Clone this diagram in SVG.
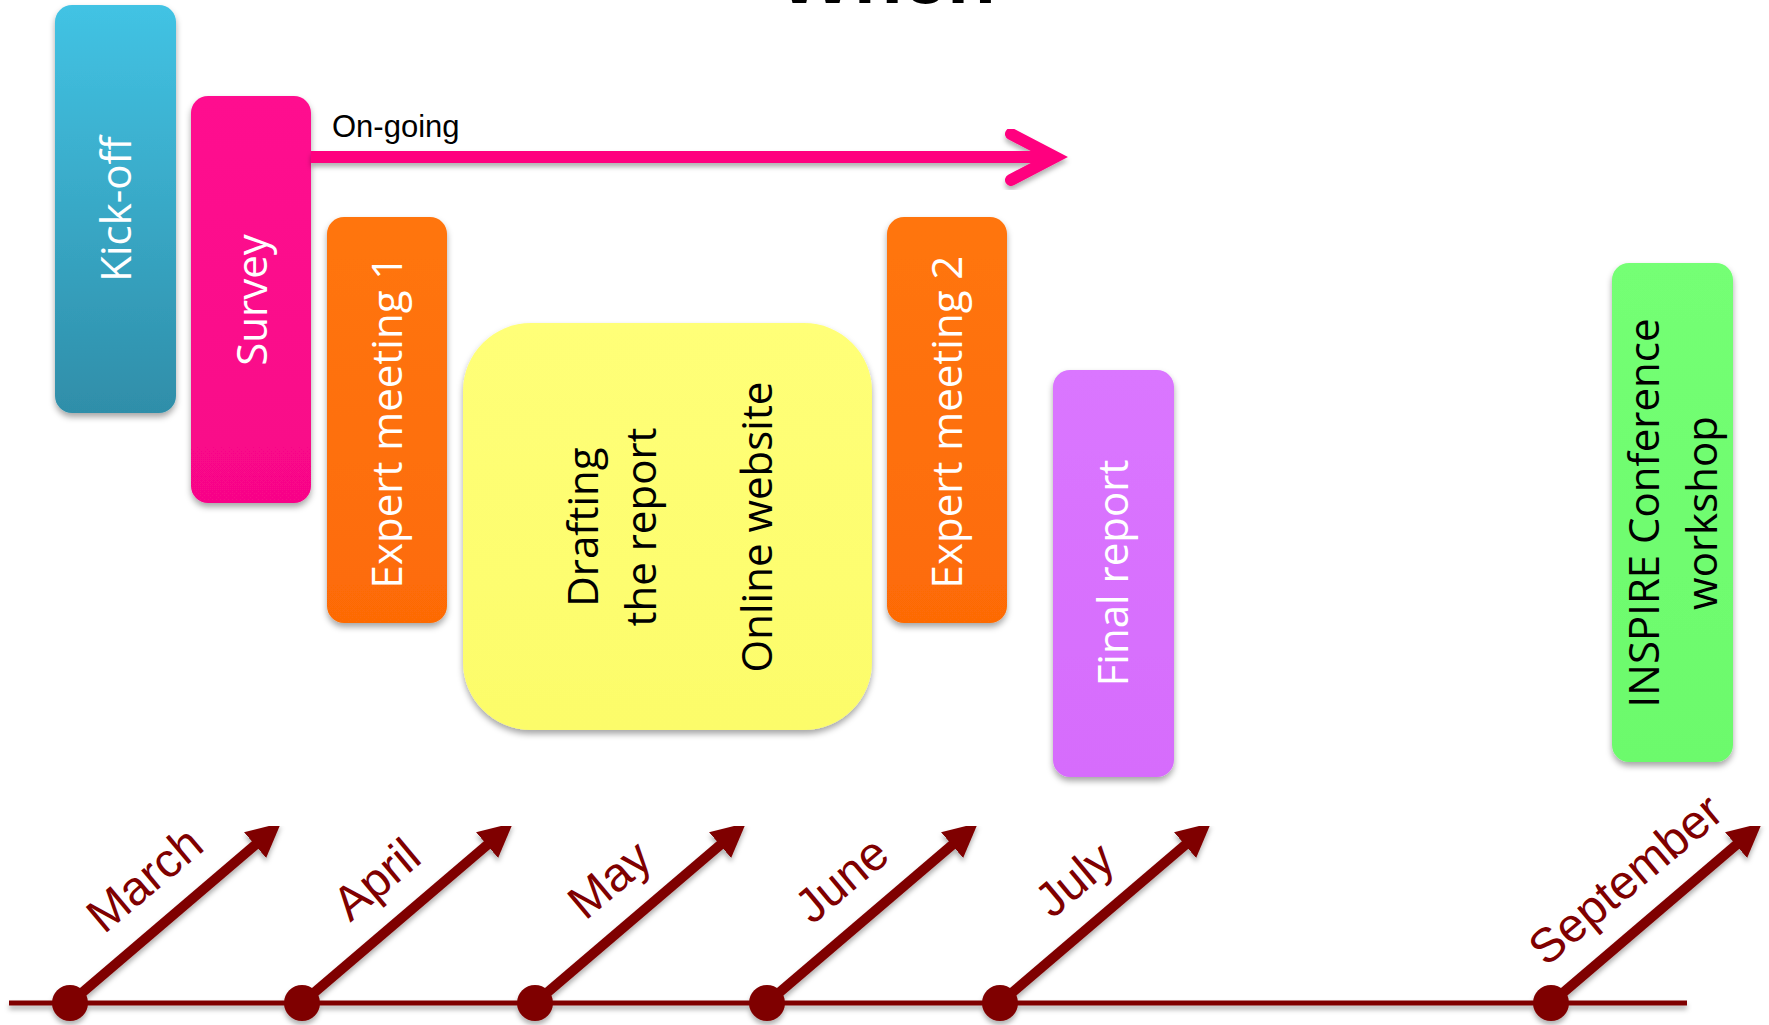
<svg xmlns="http://www.w3.org/2000/svg" width="1769" height="1025" viewBox="0 0 1769 1025">
  <defs>
    <style>
      .lbl { font-family: "Open Sans", "Noto Sans", "DejaVu Sans", sans-serif; font-size: 42px; text-anchor: middle; }
      .w { fill: #ffffff; }
      .k { fill: #000000; }
      .month { font-family: "Liberation Sans", Arial, sans-serif; font-size: 48px; fill: #7f0000; text-anchor: middle; }
      .box { filter: url(#shadow); }
      .tl { stroke: #7f0000; fill: none; }
    </style>
    <filter id="shadow" x="-20%" y="-20%" width="140%" height="140%">
      <feDropShadow dx="0" dy="4" stdDeviation="3" flood-color="#000000" flood-opacity="0.35"/>
    </filter>
    <filter id="lshadow" x="-10%" y="-10%" width="120%" height="130%">
      <feDropShadow dx="0" dy="4" stdDeviation="2.5" flood-color="#000000" flood-opacity="0.3"/>
    </filter>
    <linearGradient id="gBlue" x1="0" y1="0" x2="0" y2="1">
      <stop offset="0" stop-color="#42c3e4"/>
      <stop offset="1" stop-color="#2f8ea9"/>
    </linearGradient>
    <linearGradient id="gPink" x1="0" y1="0" x2="0" y2="1">
      <stop offset="0" stop-color="#ff0d8f"/>
      <stop offset="1" stop-color="#f80688"/>
    </linearGradient>
    <linearGradient id="gOrange" x1="0" y1="0" x2="0" y2="1">
      <stop offset="0" stop-color="#ff7510"/>
      <stop offset="1" stop-color="#fd6b06"/>
    </linearGradient>
    <linearGradient id="gYellow" x1="0" y1="0" x2="0" y2="1">
      <stop offset="0" stop-color="#ffff78"/>
      <stop offset="1" stop-color="#fcfc6a"/>
    </linearGradient>
    <linearGradient id="gViolet" x1="0" y1="0" x2="0" y2="1">
      <stop offset="0" stop-color="#da76ff"/>
      <stop offset="1" stop-color="#d66cfc"/>
    </linearGradient>
    <linearGradient id="gGreen" x1="0" y1="0" x2="0" y2="1">
      <stop offset="0" stop-color="#74ff74"/>
      <stop offset="1" stop-color="#6cfa6c"/>
    </linearGradient>
    <marker id="head" markerUnits="userSpaceOnUse" markerWidth="36" markerHeight="36" refX="2" refY="17" orient="auto">
      <path d="M0,0 L34,17 L0,34 z" fill="#7f0000"/>
    </marker>
  </defs>

  <rect x="0" y="0" width="1769" height="1025" fill="#ffffff"/>

  <!-- Title (cut off at top, as in the reference) -->
  <text x="887" y="3" font-family="Liberation Sans, Arial, sans-serif" font-size="80" font-weight="bold" text-anchor="middle" fill="#000000">When</text>

  <!-- Nodes -->
  <g id="kickoff">
    <rect class="box" x="55" y="5" width="121" height="408" rx="17" fill="url(#gBlue)"/>
    <text class="lbl w" transform="translate(131,209) rotate(-90)">Kick-off</text>
  </g>
  <g id="survey">
    <rect class="box" x="191" y="96" width="120" height="407" rx="17" fill="url(#gPink)"/>
    <text class="lbl w" transform="translate(267,300) rotate(-90)">Survey</text>
  </g>
  <g id="expert1">
    <rect class="box" x="327" y="217" width="120" height="406" rx="17" fill="url(#gOrange)"/>
    <text class="lbl w" transform="translate(402,422) rotate(-90)">Expert meeting 1</text>
  </g>
  <g id="drafting">
    <rect class="box" x="463" y="323" width="409" height="407" rx="68" fill="url(#gYellow)"/>
    <text class="lbl k" transform="translate(667,527) rotate(-90)"><tspan x="0" y="-69">Drafting</tspan><tspan x="0" y="-11">the report</tspan><tspan x="0" y="105">Online website</tspan></text>
  </g>
  <g id="expert2">
    <rect class="box" x="887" y="217" width="120" height="406" rx="17" fill="url(#gOrange)"/>
    <text class="lbl w" transform="translate(962,422) rotate(-90)">Expert meeting 2</text>
  </g>
  <g id="final">
    <rect class="box" x="1053" y="370" width="121" height="407" rx="17" fill="url(#gViolet)"/>
    <text class="lbl w" transform="translate(1128,573) rotate(-90)">Final report</text>
  </g>
  <g id="inspire">
    <rect class="box" x="1612" y="263" width="121" height="499" rx="17" fill="url(#gGreen)"/>
    <text class="lbl k" transform="translate(1673,513) rotate(-90)"><tspan x="0" y="-14">INSPIRE Conference</tspan><tspan x="0" y="44">workshop</tspan></text>
  </g>

  <!-- Connectors -->
  <g id="connectors">
    <g id="ongoing" filter="url(#lshadow)">
      <line x1="311" y1="157" x2="1050" y2="157" stroke="#ff007f" stroke-width="12"/>
      <polyline points="1011,134 1055,157 1011,180" fill="none" stroke="#ff007f" stroke-width="12" stroke-linecap="round" stroke-linejoin="miter"/>
    </g>
    <text x="332" y="137" font-family="Liberation Sans, Arial, sans-serif" font-size="31" fill="#000000">On-going</text>

    <g id="timeline" filter="url(#lshadow)">
      <line class="tl" x1="9" y1="1003" x2="1687" y2="1003" stroke-width="5"/>
      <line class="tl" x1="70" y1="1003" x2="256.6" y2="843.8" stroke-width="10" marker-end="url(#head)"/>
      <line class="tl" x1="302" y1="1003" x2="488.6" y2="843.8" stroke-width="10" marker-end="url(#head)"/>
      <line class="tl" x1="535" y1="1003" x2="721.6" y2="843.8" stroke-width="10" marker-end="url(#head)"/>
      <line class="tl" x1="767" y1="1003" x2="953.6" y2="843.8" stroke-width="10" marker-end="url(#head)"/>
      <line class="tl" x1="1000" y1="1003" x2="1186.6" y2="843.8" stroke-width="10" marker-end="url(#head)"/>
      <line class="tl" x1="1551" y1="1003" x2="1737.6" y2="843.8" stroke-width="10" marker-end="url(#head)"/>
      <g fill="#7f0000">
        <circle cx="70" cy="1003" r="18"/>
        <circle cx="302" cy="1003" r="18"/>
        <circle cx="535" cy="1003" r="18"/>
        <circle cx="767" cy="1003" r="18"/>
        <circle cx="1000" cy="1003" r="18"/>
        <circle cx="1551" cy="1003" r="18"/>
      </g>
    </g>
  </g>

  <!-- Month labels -->
  <g id="months">
    <text class="month" transform="translate(155,892) rotate(-40)">March</text>
    <text class="month" transform="translate(387,892) rotate(-40)">April</text>
    <text class="month" transform="translate(620,892) rotate(-40)">May</text>
    <text class="month" transform="translate(852,892) rotate(-40)">June</text>
    <text class="month" transform="translate(1085,892) rotate(-40)">July</text>
    <text class="month" transform="translate(1636,892) rotate(-40)">September</text>
  </g>
</svg>
